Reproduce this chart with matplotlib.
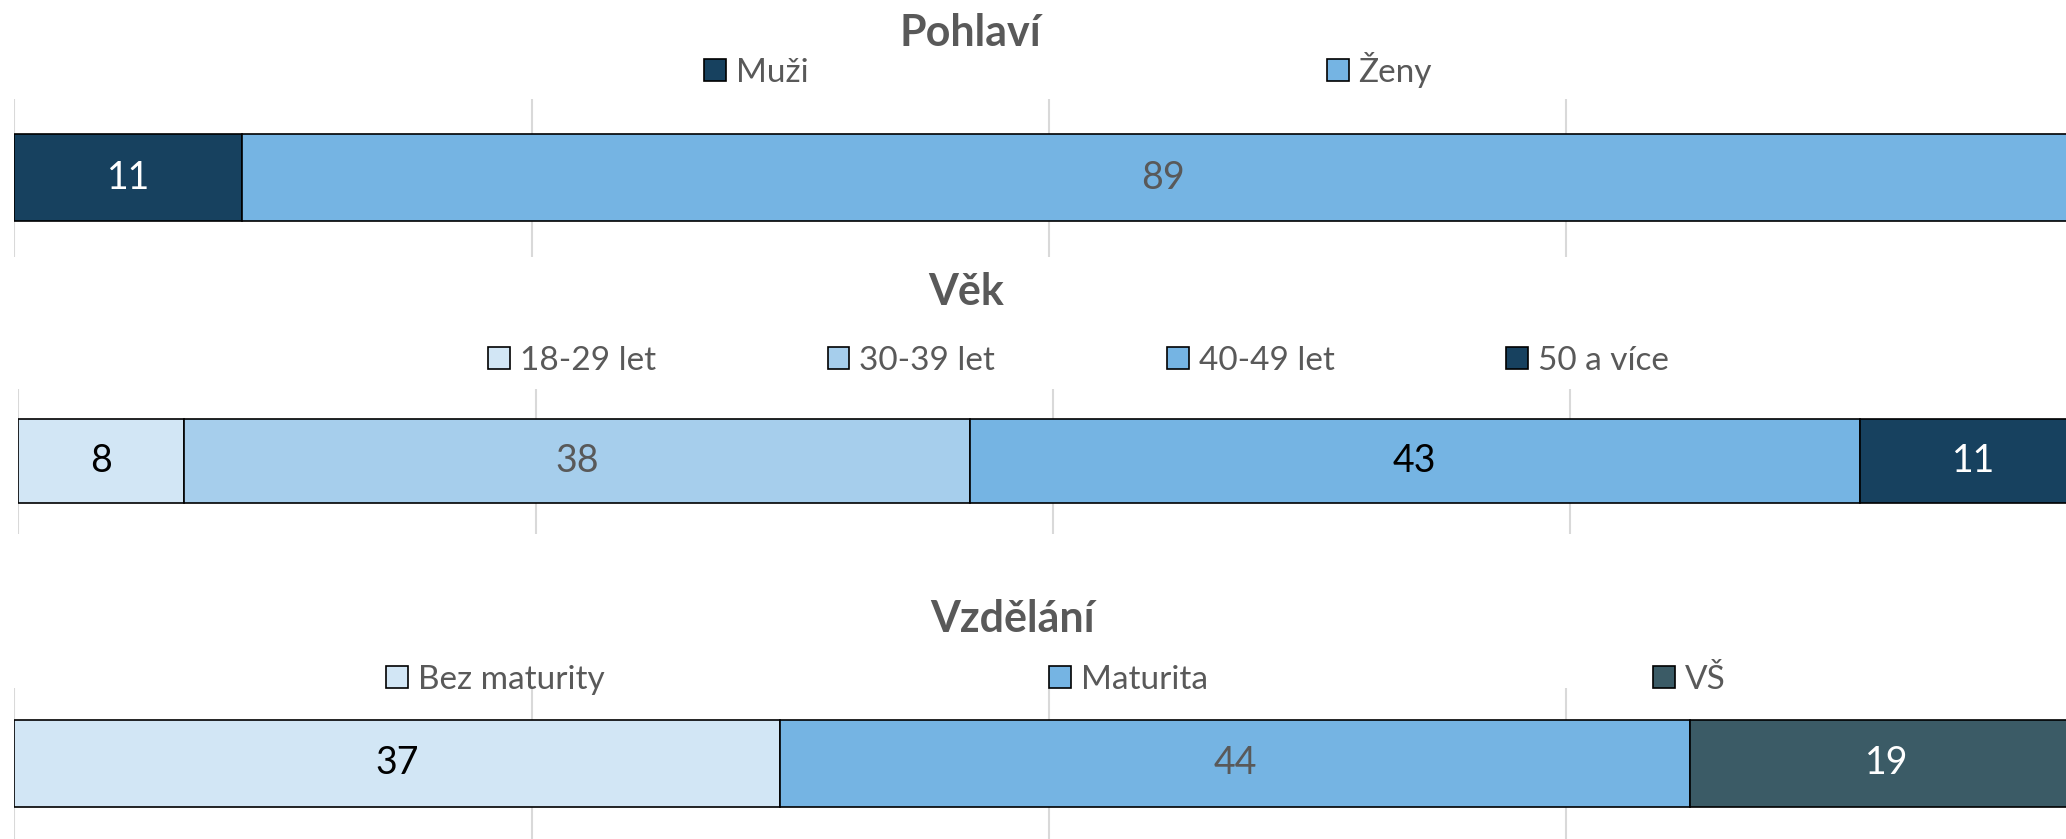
import matplotlib.pyplot as plt

plt.rcParams['font.family'] = ['Lato', 'DejaVu Sans']

# data
gender_labels = ['Muži', 'Ženy']
gender_values = [11, 89]
gender_colors = ['#17415f', '#75b4e3']
gender_text = ['white', '#595959']

age_labels = ['18-29 let', '30-39 let', '40-49 let', '50 a více']
age_values = [8, 38, 43, 11]
age_colors = ['#d2e6f5', '#a6ceec', '#75b4e3', '#17415f']
age_text = ['black', '#595959', 'black', 'white']

edu_labels = ['Bez maturity', 'Maturita', 'VŠ']
edu_values = [37, 44, 19]
edu_colors = ['#d2e6f5', '#75b4e3', '#3b5b66']
edu_text = ['black', '#595959', 'white']

fig = plt.figure(figsize=(20.66, 8.39), dpi=100)

panels = [
    # title, labels, values, colors, text colors, axes rect, bar height, title pos, legend pos, col spacing
    ('Pohlaví', gender_labels, gender_values, gender_colors, gender_text,
     [0.0070, 0.6938, 1.0013, 0.1884], 0.55, (0.4695, 0.9607), (0.517, 0.9166), 15.55),
    ('Věk', age_labels, age_values, age_colors, age_text,
     [0.0089, 0.3640, 1.0013, 0.1727], 0.58, (0.4676, 0.6514), (0.522, 0.5697), 5.15),
    ('Vzdělání', edu_labels, edu_values, edu_colors, edu_text,
     [0.0070, 0.0, 1.0013, 0.1802], 0.575, (0.4900, 0.2622), (0.511, 0.1895), 13.35),
]

for title, labels, values, colors, tcolors, rect, bh, tpos, lpos, cs in panels:
    ax = fig.add_axes(rect)
    left = 0
    handles = []
    for lab, v, c, tc in zip(labels, values, colors, tcolors):
        bars = ax.barh(0, v, left=left, height=bh, color=c, edgecolor='black',
                       linewidth=1.2, label=lab, zorder=3)
        ax.bar_label(bars, labels=[str(v)], label_type='center', color=tc, fontsize=27)
        handles.append(bars)
        left += v
    ax.set_xlim(0, 100)
    ax.set_ylim(-0.5, 0.5)
    ax.set_xticks([0, 25, 50, 75, 100])
    ax.set_yticks([])
    ax.grid(axis='x', color='#d9d9d9', linewidth=1.5, zorder=0)
    ax.tick_params(axis='x', length=0, labelbottom=False)
    for s in ax.spines.values():
        s.set_visible(False)

    fig.text(tpos[0], tpos[1], title, ha='center', va='center', fontsize=31,
             fontweight='bold', color='#595959')
    leg = fig.legend(handles=handles, labels=labels, loc='center', bbox_to_anchor=lpos,
                     ncol=len(labels), frameon=False, fontsize=24, handlelength=0.65,
                     handleheight=0.65, handletextpad=0.3, columnspacing=cs)
    for t in leg.get_texts():
        t.set_color('#595959')

fig.savefig('out.png', dpi=100)
